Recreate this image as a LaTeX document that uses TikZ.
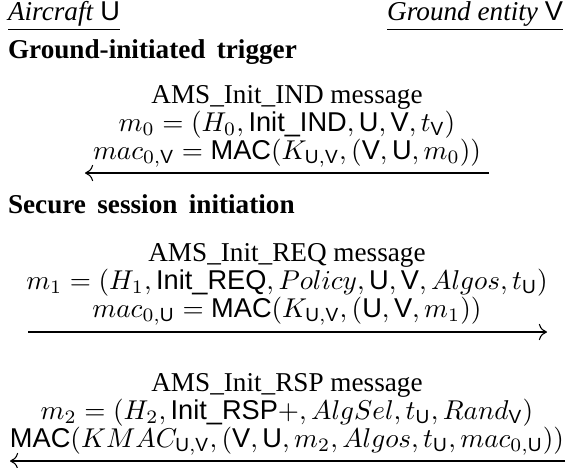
\documentclass[tikz,border=0pt]{standalone}
\usepackage{amsmath}
\usepackage[no-math]{fontspec}
\setmainfont{Liberation Serif}
\setsansfont{Liberation Sans}
\usetikzlibrary{arrows.meta}
\newcommand{\ssf}[1]{\text{\normalfont\sffamily #1}}
\tikzset{
  txt/.style={anchor=base, inner sep=0pt, outer sep=0pt, font=\fontsize{10}{12}\selectfont},
  lefttxt/.style={txt, anchor=base west},
  righttxt/.style={txt, anchor=base east},
  msgarrow/.style={line width=0.4pt, -{Computer Modern Rightarrow[length=3pt,width=6pt]}}
}
\begin{document}
\begin{tikzpicture}[x=0.3676pt, y=-0.3676pt]
\useasboundingbox (0,0) rectangle (567,467);
% headers
\node[lefttxt] (u) at (8,20) {\underline{\textit{Aircraft} $\ssf{U}$}};
\node[righttxt] (v) at (563,20) {\underline{\textit{Ground entity} $\ssf{V}$}};
% section 1
\node[lefttxt] (s1) at (8,58) {\textbf{Ground-initiated\ \,trigger}};
\node[txt] (a1) at (287,103) {AMS\_Init\_IND message};
\node[txt] (b1) at (287,131) {$m_0=(H_0,\ssf{Init\_IND},\ssf{U},\ssf{V},t_{\ssf{V}})$};
\node[txt] (c1) at (287,159) {$mac_{0,\ssf{V}}=\ssf{MAC}(K_{\ssf{U},\ssf{V}},(\ssf{V},\ssf{U},m_0))$};
\coordinate (l1) at (85,173);
\coordinate (r1) at (489,173);
\draw[msgarrow] (r1) -- (l1);
% section 2
\node[lefttxt] (s2) at (8,213) {\textbf{Secure\ \,session\ \,initiation}};
\node[txt] (a2) at (287,261) {AMS\_Init\_REQ message};
\node[txt] (b2) at (287,289) {$m_1=(H_1,\ssf{Init\_REQ},Policy,\ssf{U},\ssf{V},Algos,t_{\ssf{U}})$};
\node[txt] (c2) at (287,317) {$mac_{0,\ssf{U}}=\ssf{MAC}(K_{\ssf{U},\ssf{V}},(\ssf{U},\ssf{V},m_1))$};
\coordinate (l2) at (28,332);
\coordinate (r2) at (547,332);
\draw[msgarrow] (l2) -- (r2);
% section 3
\node[txt] (a3) at (287,391) {AMS\_Init\_RSP message};
\node[txt] (b3) at (287,419) {$m_2=(H_2,\ssf{Init\_RSP}+,AlgSel,t_{\ssf{U}},Rand_{\ssf{V}})$};
\node[txt] (c3) at (287,447) {$\ssf{MAC}(KMAC_{\ssf{U},\ssf{V}},(\ssf{V},\ssf{U},m_2,Algos,t_{\ssf{U}},mac_{0,\ssf{U}}))$};
\coordinate (l3) at (10,461);
\coordinate (r3) at (565,461);
\draw[msgarrow] (r3) -- (l3);
\end{tikzpicture}
\end{document}
